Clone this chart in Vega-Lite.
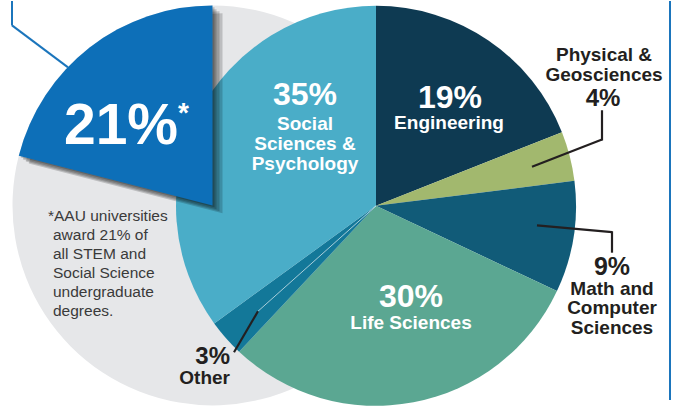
{
  "$schema": "https://vega.github.io/schema/vega-lite/v6.json",
  "width": 674,
  "height": 409,
  "autosize": {"type": "fit", "contains": "padding"},
  "padding": 0,
  "background": "#ffffff",
  "config": {"view": {"stroke": null}, "text": {"font": "Liberation Sans"}},
  "datasets": {
    "slices": [
      {"category": "Engineering", "label": "Engineering", "share": 0.19, "seq": 1},
      {"category": "Physical & Geosciences", "label": "Physical &\nGeosciences", "share": 0.04, "seq": 2},
      {"category": "Math and Computer Sciences", "label": "Math and\nComputer\nSciences", "share": 0.09, "seq": 3},
      {"category": "Life Sciences", "label": "Life Sciences", "share": 0.30, "seq": 4},
      {"category": "Other", "label": "Other", "share": 0.03, "seq": 5},
      {"category": "Social Sciences & Psychology", "label": "Social\nSciences &\nPsychology", "share": 0.35, "seq": 6}
    ],
    "aau": [
      {"group": "All other institutions", "share": 0.79},
      {"group": "AAU universities", "share": 0.21}
    ]
  },
  "layer": [
    {
      "data": {"name": "aau"},
      "mark": {"type": "arc", "outerRadius": 200, "fill": "#e6e7e9"},
      "encoding": {
        "theta": {"field": "share", "type": "quantitative", "stack": true},
        "order": {"field": "share", "sort": "descending"},
        "x": {"datum": 212.5, "type": "quantitative", "scale": {"domain": [0, 674]}, "axis": null},
        "y": {"datum": 209.5, "type": "quantitative", "scale": {"domain": [0, 409], "reverse": true}, "axis": null}
      }
    },
    {
      "data": {"name": "slices"},
      "mark": {"type": "arc", "outerRadius": 200},
      "encoding": {
        "theta": {"field": "share", "type": "quantitative", "stack": true},
        "order": {"field": "seq"},
        "color": {
          "field": "category", "type": "nominal", "legend": null,
          "scale": {
            "domain": ["Engineering", "Physical & Geosciences", "Math and Computer Sciences", "Life Sciences", "Other", "Social Sciences & Psychology"],
            "range": ["#0e3a52", "#a2b86e", "#115b78", "#5ba792", "#137899", "#4aadc8"]
          }
        },
        "x": {"datum": 376, "type": "quantitative", "scale": {"domain": [0, 674]}, "axis": null},
        "y": {"datum": 210, "type": "quantitative", "scale": {"domain": [0, 409], "reverse": true}, "axis": null}
      }
    },
    {
      "data": {"values": [{}]},
      "mark": {"type": "rule", "stroke": "#ffffff", "strokeWidth": 0.8, "opacity": 0.8},
      "encoding": {
        "x": {"datum": 376, "type": "quantitative", "scale": {"domain": [0, 674]}, "axis": null},
        "y": {"datum": 210, "type": "quantitative", "scale": {"domain": [0, 409], "reverse": true}, "axis": null},
        "x2": {"datum": 258},
        "y2": {"datum": 318}
      }
    },
    {
      "data": {"name": "aau"},
      "mark": {"type": "arc", "outerRadius": 200, "fill": "#000000"},
      "encoding": {
        "theta": {"field": "share", "type": "quantitative", "stack": true},
        "order": {"field": "share", "sort": "descending"},
        "fillOpacity": {"condition": {"test": "datum.group === 'AAU universities'", "value": 0.18}, "value": 0},
        "x": {"datum": 222.5, "type": "quantitative", "scale": {"domain": [0, 674]}, "axis": null},
        "y": {"datum": 217.5, "type": "quantitative", "scale": {"domain": [0, 409], "reverse": true}, "axis": null}
      }
    },
    {
      "data": {"name": "aau"},
      "mark": {"type": "arc", "outerRadius": 200, "fill": "#000000"},
      "encoding": {
        "theta": {"field": "share", "type": "quantitative", "stack": true},
        "order": {"field": "share", "sort": "descending"},
        "fillOpacity": {"condition": {"test": "datum.group === 'AAU universities'", "value": 0.18}, "value": 0},
        "x": {"datum": 219.5, "type": "quantitative", "scale": {"domain": [0, 674]}, "axis": null},
        "y": {"datum": 215.5, "type": "quantitative", "scale": {"domain": [0, 409], "reverse": true}, "axis": null}
      }
    },
    {
      "data": {"name": "aau"},
      "mark": {"type": "arc", "outerRadius": 200, "fill": "#000000"},
      "encoding": {
        "theta": {"field": "share", "type": "quantitative", "stack": true},
        "order": {"field": "share", "sort": "descending"},
        "fillOpacity": {"condition": {"test": "datum.group === 'AAU universities'", "value": 0.18}, "value": 0},
        "x": {"datum": 216.5, "type": "quantitative", "scale": {"domain": [0, 674]}, "axis": null},
        "y": {"datum": 213.5, "type": "quantitative", "scale": {"domain": [0, 409], "reverse": true}, "axis": null}
      }
    },
    {
      "data": {"name": "aau"},
      "mark": {"type": "arc", "outerRadius": 200, "fill": "#000000"},
      "encoding": {
        "theta": {"field": "share", "type": "quantitative", "stack": true},
        "order": {"field": "share", "sort": "descending"},
        "fillOpacity": {"condition": {"test": "datum.group === 'AAU universities'", "value": 0.2}, "value": 0},
        "x": {"datum": 214.5, "type": "quantitative", "scale": {"domain": [0, 674]}, "axis": null},
        "y": {"datum": 211.5, "type": "quantitative", "scale": {"domain": [0, 409], "reverse": true}, "axis": null}
      }
    },
    {
      "data": {"name": "aau"},
      "mark": {"type": "arc", "outerRadius": 200, "fill": "#0d6fb8"},
      "encoding": {
        "theta": {"field": "share", "type": "quantitative", "stack": true},
        "order": {"field": "share", "sort": "descending"},
        "fillOpacity": {"condition": {"test": "datum.group === 'AAU universities'", "value": 1}, "value": 0},
        "x": {"datum": 212.5, "type": "quantitative", "scale": {"domain": [0, 674]}, "axis": null},
        "y": {"datum": 209.5, "type": "quantitative", "scale": {"domain": [0, 409], "reverse": true}, "axis": null}
      }
    },
    {
      "data": {"name": "aau"},
      "transform": [{"filter": "datum.group === 'AAU universities'"}],
      "mark": {"type": "text", "fontSize": 57, "fontWeight": "bold", "fill": "#ffffff", "align": "center", "baseline": "alphabetic"},
      "encoding": {
        "text": {"field": "share", "type": "quantitative", "format": ".0%"},
        "x": {"datum": 121, "type": "quantitative", "scale": {"domain": [0, 674]}, "axis": null},
        "y": {"datum": 147, "type": "quantitative", "scale": {"domain": [0, 409], "reverse": true}, "axis": null}
      }
    },
    {
      "data": {"values": [{}]},
      "mark": {"type": "text", "fontSize": 28, "fontWeight": "bold", "fill": "#ffffff", "align": "left", "baseline": "alphabetic"},
      "encoding": {
        "text": {"value": "*"},
        "x": {"datum": 178, "type": "quantitative", "scale": {"domain": [0, 674]}, "axis": null},
        "y": {"datum": 124, "type": "quantitative", "scale": {"domain": [0, 409], "reverse": true}, "axis": null}
      }
    },
    {
      "data": {"values": [{}]},
      "mark": {"type": "text", "fontSize": 15.5, "fill": "#3a3a3a", "align": "left", "baseline": "alphabetic"},
      "encoding": {
        "text": {"value": "*AAU universities"},
        "x": {"datum": 48, "type": "quantitative", "scale": {"domain": [0, 674]}, "axis": null},
        "y": {"datum": 226, "type": "quantitative", "scale": {"domain": [0, 409], "reverse": true}, "axis": null}
      }
    },
    {
      "data": {"values": [{}]},
      "mark": {"type": "text", "fontSize": 15.5, "fill": "#3a3a3a", "align": "left", "baseline": "alphabetic", "lineBreak": "\n", "lineHeight": 19},
      "encoding": {
        "text": {"value": "award 21% of\nall STEM and\nSocial Science\nundergraduate\ndegrees."},
        "x": {"datum": 53, "type": "quantitative", "scale": {"domain": [0, 674]}, "axis": null},
        "y": {"datum": 245, "type": "quantitative", "scale": {"domain": [0, 409], "reverse": true}, "axis": null}
      }
    },
    {
      "data": {"name": "slices"},
      "transform": [{"filter": "datum.category === 'Engineering'"}],
      "mark": {"type": "text", "fontSize": 32, "fontWeight": "bold", "fill": "#ffffff", "align": "center", "baseline": "alphabetic"},
      "encoding": {
        "text": {"field": "share", "type": "quantitative", "format": ".0%"},
        "x": {"datum": 450, "type": "quantitative", "scale": {"domain": [0, 674]}, "axis": null},
        "y": {"datum": 110, "type": "quantitative", "scale": {"domain": [0, 409], "reverse": true}, "axis": null}
      }
    },
    {
      "data": {"name": "slices"},
      "transform": [{"filter": "datum.category === 'Engineering'"}],
      "mark": {"type": "text", "fontSize": 19, "fontWeight": "bold", "fill": "#ffffff", "align": "center", "baseline": "alphabetic", "lineBreak": "\n"},
      "encoding": {
        "text": {"field": "label"},
        "x": {"datum": 449, "type": "quantitative", "scale": {"domain": [0, 674]}, "axis": null},
        "y": {"datum": 131, "type": "quantitative", "scale": {"domain": [0, 409], "reverse": true}, "axis": null}
      }
    },
    {
      "data": {"name": "slices"},
      "transform": [{"filter": "datum.category === 'Social Sciences & Psychology'"}],
      "mark": {"type": "text", "fontSize": 32, "fontWeight": "bold", "fill": "#ffffff", "align": "center", "baseline": "alphabetic"},
      "encoding": {
        "text": {"field": "share", "type": "quantitative", "format": ".0%"},
        "x": {"datum": 305, "type": "quantitative", "scale": {"domain": [0, 674]}, "axis": null},
        "y": {"datum": 107, "type": "quantitative", "scale": {"domain": [0, 409], "reverse": true}, "axis": null}
      }
    },
    {
      "data": {"name": "slices"},
      "transform": [{"filter": "datum.category === 'Social Sciences & Psychology'"}],
      "mark": {"type": "text", "fontSize": 19, "fontWeight": "bold", "fill": "#ffffff", "align": "center", "baseline": "alphabetic", "lineBreak": "\n", "lineHeight": 20},
      "encoding": {
        "text": {"field": "label"},
        "x": {"datum": 305, "type": "quantitative", "scale": {"domain": [0, 674]}, "axis": null},
        "y": {"datum": 132, "type": "quantitative", "scale": {"domain": [0, 409], "reverse": true}, "axis": null}
      }
    },
    {
      "data": {"name": "slices"},
      "transform": [{"filter": "datum.category === 'Life Sciences'"}],
      "mark": {"type": "text", "fontSize": 32, "fontWeight": "bold", "fill": "#ffffff", "align": "center", "baseline": "alphabetic"},
      "encoding": {
        "text": {"field": "share", "type": "quantitative", "format": ".0%"},
        "x": {"datum": 411, "type": "quantitative", "scale": {"domain": [0, 674]}, "axis": null},
        "y": {"datum": 314, "type": "quantitative", "scale": {"domain": [0, 409], "reverse": true}, "axis": null}
      }
    },
    {
      "data": {"name": "slices"},
      "transform": [{"filter": "datum.category === 'Life Sciences'"}],
      "mark": {"type": "text", "fontSize": 19, "fontWeight": "bold", "fill": "#ffffff", "align": "center", "baseline": "alphabetic"},
      "encoding": {
        "text": {"field": "label"},
        "x": {"datum": 411, "type": "quantitative", "scale": {"domain": [0, 674]}, "axis": null},
        "y": {"datum": 336, "type": "quantitative", "scale": {"domain": [0, 409], "reverse": true}, "axis": null}
      }
    },
    {
      "data": {"name": "slices"},
      "transform": [{"filter": "datum.category === 'Physical & Geosciences'"}],
      "mark": {"type": "text", "fontSize": 19, "fontWeight": "bold", "fill": "#231f20", "align": "center", "baseline": "alphabetic", "lineBreak": "\n", "lineHeight": 20},
      "encoding": {
        "text": {"field": "label"},
        "x": {"datum": 604, "type": "quantitative", "scale": {"domain": [0, 674]}, "axis": null},
        "y": {"datum": 61, "type": "quantitative", "scale": {"domain": [0, 409], "reverse": true}, "axis": null}
      }
    },
    {
      "data": {"name": "slices"},
      "transform": [{"filter": "datum.category === 'Physical & Geosciences'"}],
      "mark": {"type": "text", "fontSize": 24, "fontWeight": "bold", "fill": "#231f20", "align": "center", "baseline": "alphabetic"},
      "encoding": {
        "text": {"field": "share", "type": "quantitative", "format": ".0%"},
        "x": {"datum": 603, "type": "quantitative", "scale": {"domain": [0, 674]}, "axis": null},
        "y": {"datum": 108, "type": "quantitative", "scale": {"domain": [0, 409], "reverse": true}, "axis": null}
      }
    },
    {
      "data": {"name": "slices"},
      "transform": [{"filter": "datum.category === 'Math and Computer Sciences'"}],
      "mark": {"type": "text", "fontSize": 25, "fontWeight": "bold", "fill": "#231f20", "align": "center", "baseline": "alphabetic"},
      "encoding": {
        "text": {"field": "share", "type": "quantitative", "format": ".0%"},
        "x": {"datum": 612, "type": "quantitative", "scale": {"domain": [0, 674]}, "axis": null},
        "y": {"datum": 281, "type": "quantitative", "scale": {"domain": [0, 409], "reverse": true}, "axis": null}
      }
    },
    {
      "data": {"name": "slices"},
      "transform": [{"filter": "datum.category === 'Math and Computer Sciences'"}],
      "mark": {"type": "text", "fontSize": 19, "fontWeight": "bold", "fill": "#231f20", "align": "center", "baseline": "alphabetic", "lineBreak": "\n", "lineHeight": 19.5},
      "encoding": {
        "text": {"field": "label"},
        "x": {"datum": 612, "type": "quantitative", "scale": {"domain": [0, 674]}, "axis": null},
        "y": {"datum": 301, "type": "quantitative", "scale": {"domain": [0, 409], "reverse": true}, "axis": null}
      }
    },
    {
      "data": {"name": "slices"},
      "transform": [{"filter": "datum.category === 'Other'"}],
      "mark": {"type": "text", "fontSize": 24, "fontWeight": "bold", "fill": "#231f20", "align": "right", "baseline": "alphabetic"},
      "encoding": {
        "text": {"field": "share", "type": "quantitative", "format": ".0%"},
        "x": {"datum": 230, "type": "quantitative", "scale": {"domain": [0, 674]}, "axis": null},
        "y": {"datum": 372, "type": "quantitative", "scale": {"domain": [0, 409], "reverse": true}, "axis": null}
      }
    },
    {
      "data": {"name": "slices"},
      "transform": [{"filter": "datum.category === 'Other'"}],
      "mark": {"type": "text", "fontSize": 19, "fontWeight": "bold", "fill": "#231f20", "align": "right", "baseline": "alphabetic"},
      "encoding": {
        "text": {"field": "label"},
        "x": {"datum": 230, "type": "quantitative", "scale": {"domain": [0, 674]}, "axis": null},
        "y": {"datum": 393, "type": "quantitative", "scale": {"domain": [0, 409], "reverse": true}, "axis": null}
      }
    },
    {
      "data": {"values": [{}]},
      "mark": {"type": "rule", "stroke": "#231f20", "strokeWidth": 2.2},
      "encoding": {
        "x": {"datum": 532, "type": "quantitative", "scale": {"domain": [0, 674]}, "axis": null},
        "y": {"datum": 170, "type": "quantitative", "scale": {"domain": [0, 409], "reverse": true}, "axis": null},
        "x2": {"datum": 602},
        "y2": {"datum": 142}
      }
    },
    {
      "data": {"values": [{}]},
      "mark": {"type": "rule", "stroke": "#231f20", "strokeWidth": 2.2},
      "encoding": {
        "x": {"datum": 602, "type": "quantitative", "scale": {"domain": [0, 674]}, "axis": null},
        "y": {"datum": 143, "type": "quantitative", "scale": {"domain": [0, 409], "reverse": true}, "axis": null},
        "x2": {"datum": 602},
        "y2": {"datum": 112}
      }
    },
    {
      "data": {"values": [{}]},
      "mark": {"type": "rule", "stroke": "#231f20", "strokeWidth": 2.2},
      "encoding": {
        "x": {"datum": 537, "type": "quantitative", "scale": {"domain": [0, 674]}, "axis": null},
        "y": {"datum": 230, "type": "quantitative", "scale": {"domain": [0, 409], "reverse": true}, "axis": null},
        "x2": {"datum": 612},
        "y2": {"datum": 237}
      }
    },
    {
      "data": {"values": [{}]},
      "mark": {"type": "rule", "stroke": "#231f20", "strokeWidth": 2.2},
      "encoding": {
        "x": {"datum": 612, "type": "quantitative", "scale": {"domain": [0, 674]}, "axis": null},
        "y": {"datum": 236, "type": "quantitative", "scale": {"domain": [0, 409], "reverse": true}, "axis": null},
        "x2": {"datum": 612},
        "y2": {"datum": 258}
      }
    },
    {
      "data": {"values": [{}]},
      "mark": {"type": "rule", "stroke": "#231f20", "strokeWidth": 2.2},
      "encoding": {
        "x": {"datum": 258, "type": "quantitative", "scale": {"domain": [0, 674]}, "axis": null},
        "y": {"datum": 318, "type": "quantitative", "scale": {"domain": [0, 409], "reverse": true}, "axis": null},
        "x2": {"datum": 234},
        "y2": {"datum": 360}
      }
    },
    {
      "data": {"values": [{}]},
      "mark": {"type": "rule", "stroke": "#1b75bc", "strokeWidth": 2},
      "encoding": {
        "x": {"datum": 670, "type": "quantitative", "scale": {"domain": [0, 674]}, "axis": null},
        "y": {"datum": 0, "type": "quantitative", "scale": {"domain": [0, 409], "reverse": true}, "axis": null},
        "x2": {"datum": 670},
        "y2": {"datum": 409}
      }
    },
    {
      "data": {"values": [{}]},
      "mark": {"type": "rule", "stroke": "#1b75bc", "strokeWidth": 2},
      "encoding": {
        "x": {"datum": 12, "type": "quantitative", "scale": {"domain": [0, 674]}, "axis": null},
        "y": {"datum": 0, "type": "quantitative", "scale": {"domain": [0, 409], "reverse": true}, "axis": null},
        "x2": {"datum": 12},
        "y2": {"datum": 25}
      }
    },
    {
      "data": {"values": [{}]},
      "mark": {"type": "rule", "stroke": "#1b75bc", "strokeWidth": 2},
      "encoding": {
        "x": {"datum": 12, "type": "quantitative", "scale": {"domain": [0, 674]}, "axis": null},
        "y": {"datum": 25, "type": "quantitative", "scale": {"domain": [0, 409], "reverse": true}, "axis": null},
        "x2": {"datum": 68},
        "y2": {"datum": 68}
      }
    }
  ]
}
